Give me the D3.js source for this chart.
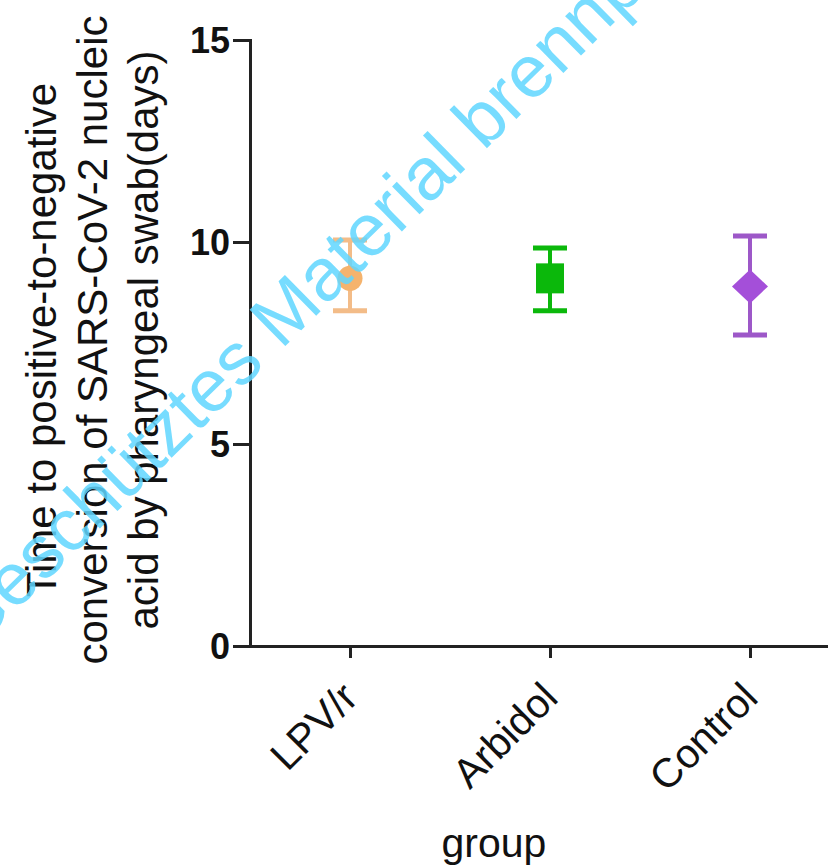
<!DOCTYPE html>
<html>
<head>
<meta charset="utf-8">
<script src="https://cdn.jsdelivr.net/npm/d3@7"></script>
<style>
  html, body { margin: 0; padding: 0; background: #fff; }
  svg { display: block; }
</style>
</head>
<body>
<script>
// Groups and their summary values (days)
const groups = ["LPV/r", "Arbidol", "Control"];
const means = [9.1, 9.1, 8.9];
const upper = [10.05, 9.85, 10.15];
const lower = [8.3, 8.3, 7.7];
const yTicks = [0, 5, 10, 15];
const markerShapes = ["circle", "square", "diamond"];
const fillColors = ["#f4ab5e", "#0bb80b", "#a44fd9"];
const lineColors = ["#f2b57c", "#0bb80b", "#9d58c8"];

const W = 828, H = 868;
const svg = d3.select("body").append("svg").attr("width", W).attr("height", H);

const x = d3.scalePoint().domain(groups).range([250, 850]).padding(0.5);
const y = d3.scaleLinear().domain([0, 15]).range([646, 40]);

const axisColor = "#222";
const font = "Liberation Sans, Arial, sans-serif";

// Y axis
const yAxis = svg.append("g").attr("transform", "translate(250,0)")
  .call(d3.axisLeft(y).tickValues(yTicks).tickSize(17).tickPadding(3).tickFormat(d3.format("d")));
yAxis.select(".domain").attr("stroke", axisColor).attr("stroke-width", 3);
yAxis.selectAll(".tick line").attr("stroke", axisColor).attr("stroke-width", 3);
yAxis.selectAll(".tick text")
  .attr("fill", "#111").attr("font-family", font)
  .attr("font-weight", "bold").attr("font-size", 36).attr("dy", "0.36em");

// X axis
const xAxis = svg.append("g").attr("transform", "translate(0,646)")
  .call(d3.axisBottom(x).tickSize(12).tickSizeOuter(0).tickFormat(""));
xAxis.select(".domain").attr("stroke", axisColor).attr("stroke-width", 3);
xAxis.selectAll(".tick line").attr("stroke", axisColor).attr("stroke-width", 3);

// Rotated category labels
svg.append("g").selectAll("text").data(groups).join("text")
  .attr("transform", d => `translate(${x(d) + 10},${700}) rotate(-45)`)
  .attr("text-anchor", "end")
  .attr("font-family", font)
  .attr("font-size", 41).attr("fill", "#111")
  .text(d => d);

// X axis title
svg.append("text").attr("x", 494).attr("y", 857).attr("text-anchor", "middle")
  .attr("font-family", font).attr("font-size", 41).attr("fill", "#111")
  .text("group");

// Y axis title (three lines)
const yTitle = ["Time to positive-to-negative", "conversion of SARS-CoV-2 nucleic", "acid by pharyngeal swab(days)"];
svg.append("g").selectAll("text").data(yTitle).join("text")
  .attr("transform", (d, i) => `translate(${56 + i * 51},340) rotate(-90)`)
  .attr("text-anchor", "middle")
  .attr("font-family", font).attr("font-size", 42).attr("fill", "#111")
  .text(d => d);

// Error bars and markers
const capHalf = 17;
const marks = svg.append("g");
groups.forEach((g, i) => {
  const cx = x(g);
  const gg = marks.append("g").attr("opacity", i === 0 ? 0.9 : 1);
  gg.append("line").attr("x1", cx).attr("x2", cx).attr("y1", y(upper[i])).attr("y2", y(lower[i]))
    .attr("stroke", lineColors[i]).attr("stroke-width", 4);
  [upper[i], lower[i]].forEach(v => {
    gg.append("line").attr("x1", cx - capHalf).attr("x2", cx + capHalf).attr("y1", y(v)).attr("y2", y(v))
      .attr("stroke", lineColors[i]).attr("stroke-width", 5);
  });
  const cy = y(means[i]);
  if (markerShapes[i] === "circle") {
    gg.append("circle").attr("cx", cx).attr("cy", cy).attr("r", 12.5).attr("fill", fillColors[i]);
  } else if (markerShapes[i] === "square") {
    gg.append("rect").attr("x", cx - 14).attr("y", cy - 15).attr("width", 28).attr("height", 30).attr("fill", fillColors[i]);
  } else {
    gg.append("path").attr("d", `M${cx},${cy - 17}L${cx + 18},${cy}L${cx},${cy + 17}L${cx - 18},${cy}Z`)
      .attr("fill", fillColors[i]);
  }
});

// Watermark overlay
svg.append("text")
  .attr("transform", "translate(-27,653) rotate(-44.5)")
  .attr("font-family", font).attr("font-size", 74)
  .attr("fill", "#5fd6ff").attr("fill-opacity", 0.85)
  .text("Geschütztes Material brennpunkt");
</script>
</body>
</html>
